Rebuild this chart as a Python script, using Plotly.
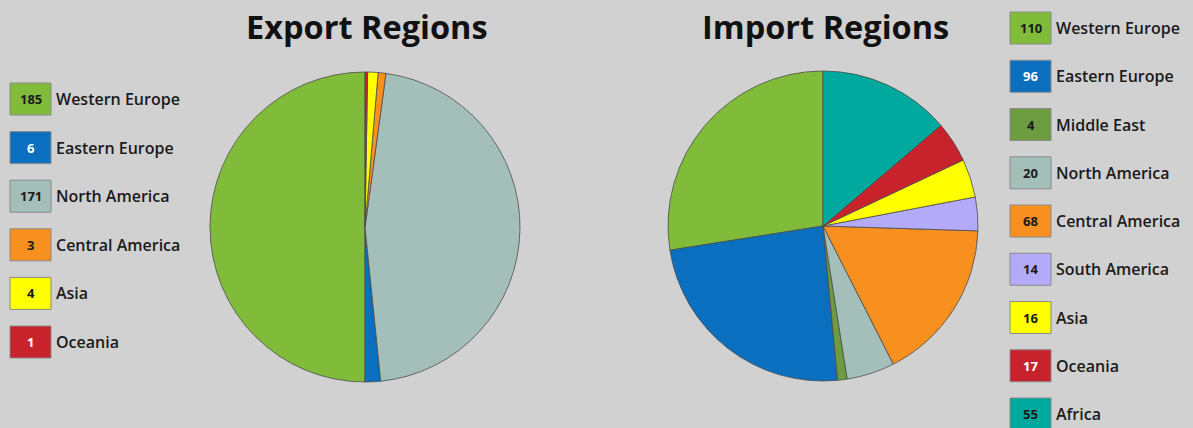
import plotly.graph_objects as go

# ---------------- data ----------------
export_regions = ["Western Europe", "Eastern Europe", "North America", "Central America", "Asia", "Oceania"]
export_values = [185, 6, 171, 3, 4, 1]
export_colors = ["#80BC3A", "#0A6FBE", "#A4BFBA", "#F7901E", "#FFFF00", "#C8232C"]
export_numcolors = ["#1a1a1a", "#ffffff", "#1a1a1a", "#1a1a1a", "#1a1a1a", "#ffffff"]

import_regions = ["Western Europe", "Eastern Europe", "Middle East", "North America", "Central America",
                  "South America", "Asia", "Oceania", "Africa"]
import_values = [110, 96, 4, 20, 68, 14, 16, 17, 55]
import_colors = ["#80BC3A", "#0A6FBE", "#6C9B40", "#A4BFBA", "#F7901E", "#B3ABF8", "#FFFF00", "#C8232C", "#00A99D"]
import_numcolors = ["#1a1a1a", "#ffffff", "#1a1a1a", "#1a1a1a", "#1a1a1a", "#1a1a1a", "#1a1a1a", "#ffffff", "#1a1a1a"]

titles = ["Export Regions", "Import Regions"]

# ---------------- layout constants ----------------
W, H = 1193, 428
BG = "#D1D1D1"
FONT = "Open Sans"


def px(x):
    return x / W


def py(y):
    return 1 - y / H


def pie_domain(cx, cy, r):
    return dict(x=[px(cx - r), px(cx + r)], y=[py(cy + r), py(cy - r)])


def start_rotation(values):
    # first slice starts at 12 o'clock and runs counterclockwise
    return -360.0 * values[0] / sum(values)


fig = go.Figure()

fig.add_trace(go.Pie(
    labels=export_regions, values=export_values,
    marker=dict(colors=export_colors, line=dict(color="#4d4d4d", width=0.8)),
    sort=False, direction="counterclockwise", rotation=start_rotation(export_values),
    textinfo="none", showlegend=False,
    domain=pie_domain(365, 227, 155),
))
fig.add_trace(go.Pie(
    labels=import_regions, values=import_values,
    marker=dict(colors=import_colors, line=dict(color="#4d4d4d", width=0.8)),
    sort=False, direction="counterclockwise", rotation=start_rotation(import_values),
    textinfo="none", showlegend=False,
    domain=pie_domain(823, 226, 155),
))

shapes = []
annotations = []


def legend(regions, values, colors, numcolors, x0, y0, step):
    for i, (reg, val, col, nc) in enumerate(zip(regions, values, colors, numcolors)):
        yc = y0 + i * step
        shapes.append(dict(type="rect", xref="paper", yref="paper",
                           x0=px(x0), x1=px(x0 + 41), y0=py(yc + 16), y1=py(yc - 16),
                           fillcolor=col, line=dict(color="#8a8a8a", width=1)))
        annotations.append(dict(xref="paper", yref="paper", x=px(x0 + 20.5), y=py(yc),
                                text=f"<b>{val}</b>", showarrow=False, xanchor="center", yanchor="middle",
                                font=dict(family=FONT, size=13, color=nc)))
        annotations.append(dict(xref="paper", yref="paper", x=px(x0 + 44), y=py(yc),
                                text=reg, showarrow=False, xanchor="left", yanchor="middle",
                                font=dict(family=FONT, size=16, color="#1a1a1a", weight=600)))


legend(export_regions, export_values, export_colors, export_numcolors, 10, 99, 48.6)
legend(import_regions, import_values, import_colors, import_numcolors, 1010, 28, 48.25)

for t, cx in zip(titles, [367, 825]):
    annotations.append(dict(xref="paper", yref="paper", x=px(cx), y=py(27), text=t, showarrow=False,
                            xanchor="center", yanchor="middle",
                            font=dict(family=FONT, size=32.5, color="#111111", weight=700)))

fig.update_layout(
    width=W, height=H, margin=dict(l=0, r=0, t=0, b=0),
    paper_bgcolor=BG, plot_bgcolor=BG,
    shapes=shapes, annotations=annotations,
)

fig.write_html("out.html", config={"displayModeBar": False},
               post_script="document.body.style.margin='0';document.body.style.overflow='hidden';")
